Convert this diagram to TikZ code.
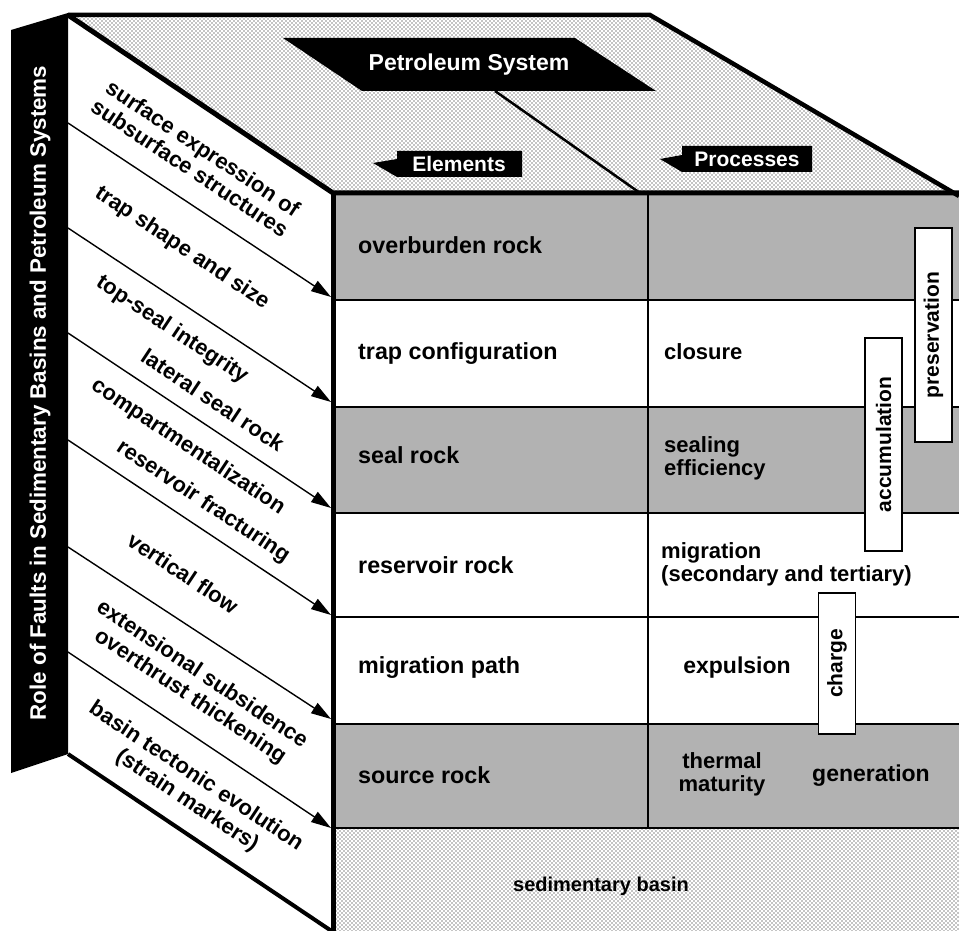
\documentclass[tikz,border=0pt]{standalone}
\usepackage{fontspec}
\setmainfont{Liberation Sans}
\usepackage{xcolor}
\definecolor{rockgray}{gray}{0.70}
\usetikzlibrary{arrows.meta,patterns.meta}

\tikzdeclarepattern{
  name=stipple,
  type=uncolored,
  bounding box={(-1pt,-1pt) and (3pt,3pt)},
  tile size={(4pt,4pt)},
  code={
    \fill (0pt,0pt) circle (0.7pt);
    \fill (2pt,2pt) circle (0.7pt);
  }
}

\begin{document}
\begin{tikzpicture}[
    x=1pt,y=-1pt,
    lbl/.style={font=\bfseries\fontsize{22}{23}\selectfont,inner sep=0pt},
    elem/.style={lbl,anchor=west,font=\bfseries\fontsize{23.3}{24}\selectfont},
    proc/.style={lbl,anchor=west,align=left},
    fault/.style={lbl,rotate=-33.6},
    faultarrow/.style={line width=1.4pt,-{Triangle[length=20pt,width=12pt]}},
    procbox/.style={draw,line width=1.2pt,fill=white,rotate=90,
                    minimum height=37pt,inner sep=0pt,
                    font=\bfseries\fontsize{21}{23}\selectfont},
    tag/.style={text=white,font=\bfseries\fontsize{22.4}{23}\selectfont,inner sep=0pt},
    rowline/.style={line width=2.5pt}
  ]
    \useasboundingbox (0,0) rectangle (959,931);

    % Front face: layers
    \fill[rockgray] (333,195) rectangle (959,300);
    \fill[rockgray] (333,407) rectangle (959,513);
    \fill[rockgray] (333,724) rectangle (959,828);
    \fill[pattern=stipple] (333,828) rectangle (959,931);
    \draw[rowline] (333,300) -- (959,300);
    \draw[rowline] (333,407) -- (959,407);
    \draw[rowline] (333,513) -- (959,513);
    \draw[rowline] (333,617) -- (959,617);
    \draw[rowline] (333,724) -- (959,724);
    \draw[rowline] (333,828) -- (959,828);
    \draw[rowline] (648,193) -- (648,828);

    % Top face
    \fill[pattern=stipple] (68,15) -- (650,15) -- (959,195) -- (333,195) -- cycle;
    \draw[line width=4.5pt] (68,15) -- (650,15) -- (959,196);
    \draw[line width=5pt] (68,15) -- (333,193) -- (959,193);
    \draw[line width=5pt] (333,191) -- (333,931);

    % Left face
    \draw[line width=4pt] (68,754) -- (333,932);
    \fill (11,30) -- (68,13) -- (68,754) -- (11,773) -- cycle;
    \node[tag,rotate=90] (role) at (40,393)
      {Role of Faults in Sedimentary Basins and Petroleum Systems};

    % Petroleum system banner and column tags
    \fill (283,38) -- (575,38) -- (656,91) -- (362,91) -- cycle;
    \node[tag,font=\bfseries\fontsize{23}{24}\selectfont] (ps) at (469,65) {Petroleum System};
    \coordinate (psfoot) at (495,91);
    \coordinate (coltop) at (640,193);
    \draw[line width=2.5pt] (psfoot) -- (coltop);
    \fill (373,163) -- (397,159) -- (397,151) -- (522,151) -- (522,177) -- (397,177) -- cycle;
    \node[tag,font=\bfseries\fontsize{21}{23}\selectfont] (elems) at (459,164) {Elements};
    \fill (660,159) -- (682,155) -- (682,146) -- (812,146) -- (812,172) -- (682,172) -- cycle;
    \node[tag,font=\bfseries\fontsize{21}{23}\selectfont] (procs) at (747,159) {Processes};

    % Elements
    \node[elem] (over) at (358,245) {overburden rock};
    \node[elem] (trap) at (358,354) {trap configuration};
    \node[elem] (seal) at (358,455) {seal rock};
    \node[elem] (resv) at (358,565) {reservoir rock};
    \node[elem] (mpath) at (358,668) {migration path};
    \node[elem] (src) at (358,775) {source rock};
    \node[lbl,font=\bfseries\fontsize{20}{21}\selectfont] (basin) at (601,886) {sedimentary basin};

    % Processes
    \node[proc] (clos) at (664,352) {closure};
    \node[proc] (seff) at (664,458) {sealing\\efficiency};
    \node[proc] (migr) at (661,564) {migration\\(secondary and tertiary)};
    \node[lbl,font=\bfseries\fontsize{23}{24}\selectfont] (expl) at (737,668) {expulsion};
    \node[lbl,align=center] (therm) at (722,774) {thermal\\maturity};
    \node[lbl,font=\bfseries\fontsize{23}{24}\selectfont] (gen) at (871,776) {generation};
    \node[procbox,minimum width=214pt] (pres) at (933.5,335) {preservation};
    \node[procbox,minimum width=213pt] (accu) at (883.5,444.5) {accumulation};
    \node[procbox,minimum width=141pt] (chrg) at (837,663.5) {charge};

    % Fault roles
    \coordinate (f1a) at (68,123);  \coordinate (f1b) at (331,297);
    \coordinate (f2a) at (68,228);  \coordinate (f2b) at (331,402);
    \coordinate (f3a) at (68,333);  \coordinate (f3b) at (331,508);
    \coordinate (f4a) at (68,440);  \coordinate (f4b) at (331,615);
    \coordinate (f5a) at (68,547);  \coordinate (f5b) at (331,719);
    \coordinate (f6a) at (68,652);  \coordinate (f6b) at (331,828);
    \draw[faultarrow] (f1a) -- (f1b);
    \draw[faultarrow] (f2a) -- (f2b);
    \draw[faultarrow] (f3a) -- (f3b);
    \draw[faultarrow] (f4a) -- (f4b);
    \draw[faultarrow] (f5a) -- (f5b);
    \draw[faultarrow] (f6a) -- (f6b);
    \node[fault] (surf1) at (202,150) {surface expression of};
    \node[fault] (surf2) at (190,168) {subsurface structures};
    \node[fault] (shape) at (182,248) {trap shape and size};
    \node[fault] (tops) at (172,330) {top-seal integrity};
    \node[fault] (lats) at (213,400) {lateral seal rock};
    \node[fault] (comp) at (188,447) {compartmentalization};
    \node[fault] (frac) at (203,502) {reservoir fracturing};
    \node[fault] (vert) at (183,573) {vertical flow};
    \node[fault] (ext) at (203,673) {extensional subsidence};
    \node[fault] (thick) at (190,697) {overthrust thickening};
    \node[fault] (evol) at (197,775) {basin tectonic evolution};
    \node[fault] (strain) at (187,801) {(strain markers)};
  \end{tikzpicture}
\end{document}
